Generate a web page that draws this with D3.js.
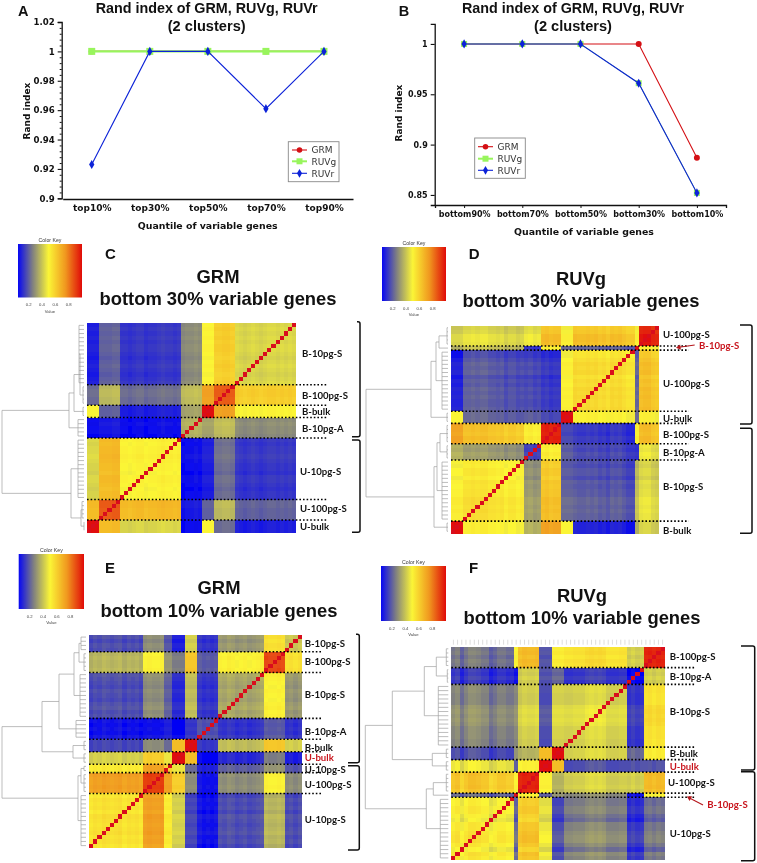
<!DOCTYPE html>
<html><head><meta charset="utf-8">
<script src="https://cdnjs.cloudflare.com/ajax/libs/d3/7.8.5/d3.min.js"></script>
<style>html,body{margin:0;padding:0;background:#fff}svg{display:block;filter:blur(0.3px)}</style>
</head><body><svg id="fig" width="757" height="863"></svg>
<script>
// ---------- line chart data ----------
const topQuantiles=["top10%","top30%","top50%","top70%","top90%"];
const bottomQuantiles=["bottom90%","bottom70%","bottom50%","bottom30%","bottom10%"];
const seriesNames=["GRM","RUVg","RUVr"];
const seriesColors=["#d40f14","#98f55c","#0c22d8"];
const aGRM=[1,1,1,1,1];
const aRUVg=[1,1,1,1,1];
const aRUVr=[0.923,1,1,0.961,1];
const bGRM=[1,1,1,1,0.887];
const bRUVg=[1,1,1,0.961,0.852];
const bRUVr=[1,1,1,0.961,0.852];
const aYTicks=[0.9,0.92,0.94,0.96,0.98,1,1.02];
const aYMinor=[.904,.908,.912,.916,.924,.928,.932,.936,.944,.948,.952,.956,.964,.968,.972,.976,.984,.988,.992,.996,1.004,1.008,1.012,1.016];
const bYTicks=[0.85,0.9,0.95,1];
// ---------- heatmap data: group sizes, between-group similarity, per-sample drift ----------
const cSizes=[15,5,3,5,15,5,3];
const cBlocks=[
[.43,.6,.5,.28,.12,.2,.08],
[.6,.85,.72,.38,.22,.37,.22],
[.5,.72,1,.33,.08,.2,.5],
[.28,.38,.33,.36,.05,.07,.05],
[.12,.22,.08,.05,.5,.65,.43],
[.2,.37,.2,.07,.65,.85,.65],
[.08,.22,.5,.05,.43,.65,1]];
const cDrift=[0,.01,0,.01,0,.01,.01,0,-.01,0,.01,0,-.01,0,.01, 0,.01,.01,0,0, 0,0,0, 0,.01,0,0,-.01, .01,0,.01,.01,.02,.01,0,0,-.01,.01,.01,0,-.01,0,0, .01,.01,0,0,0, 0,0,0];
const dSizes=[5,1,15,3,5,4,15,3];
const dBlocks=[
[.95,.5,.62,.5,.62,.46,.43,.42],
[.5,1,.2,.22,.5,.12,.38,.35],
[.62,.2,.55,.5,.1,.15,.17,.08],
[.5,.22,.5,1,.14,.2,.2,.5],
[.62,.5,.1,.14,.92,.5,.6,.7],
[.46,.12,.15,.2,.5,.15,.3,.36],
[.43,.38,.17,.2,.6,.3,.52,.5],
[.42,.35,.08,.5,.7,.36,.5,1]];
const dDrift=[-.02,-.01,.02,.02,.01, 0, -.02,-.02,0,.02,.01,.02,-.01,.01,0,.02,.01,.02,.01,.01,.02, 0,0,0, .02,.02,.01,.03,.02, 0,-.01,.01,0, -.01,-.02,0,0,-.02,.01,0,.01,.01,.03,.03,.02,.03,.02,.02, 0,0,0];
const eSizes=[4,5,11,5,3,3,2,5,13];
const eBlocks=[
[.4,.55,.3,.13,.42,.08,.18,.28,.16],
[.55,.88,.5,.2,.62,.25,.3,.5,.36],
[.3,.5,.33,.13,.38,.1,.2,.28,.16],
[.13,.2,.13,.2,.14,.05,.1,.07,.07],
[.42,.62,.38,.14,1,.65,.22,.28,.15],
[.08,.25,.1,.05,.65,1,.47,.6,.42],
[.18,.3,.2,.1,.22,.47,.6,.72,.52],
[.28,.5,.28,.07,.28,.6,.72,.9,.72],
[.16,.36,.16,.07,.15,.42,.52,.72,.54]];
const eDrift=[.01,-.01,.01,0, 0,.01,0,0,.01, .02,.01,0,-.01,.01,0,-.01,.01,.02,0,.01, -.01,-.02,-.01,-.02,0, 0,0,0, 0,0,0, 0,0, .01,0,0,.01,0, -.01,.01,0,.01,-.01,.02,.01,0,.01,.02,0,.01,-.01];
const fSizes=[5,4,15,3,3,5,1,15];
const fBlocks=[
[.95,.42,.55,.52,.18,.65,.5,.24],
[.42,.05,.13,.22,.18,.42,.07,.13],
[.55,.13,.43,.43,.17,.42,.28,.27],
[.52,.22,.43,1,.65,.36,.3,.17],
[.18,.18,.17,.65,1,.51,.2,.47],
[.65,.42,.42,.36,.51,.95,.5,.62],
[.5,.07,.28,.3,.2,.5,1,.22],
[.24,.13,.27,.17,.47,.62,.22,.52]];
const fDrift=[0,.01,-.01,.01,0, 0,-.01,.01,-.01, 0,0,-.01,-.01,-.01,.02,.03,.02,.03,.02,0,0,0,-.01,-.01, 0,0,0, 0,0,0, .01,0,0,.01,-.01, 0, -.02,-.02,0,0,-.03,-.05,0,0,.02,.03,.03,0,-.04,.02,0];
// dendrogram distances: [height, child, child]; a bare {g,h} is a sample group
const L=(g,h)=>({g,h});
const N=(h,...kids)=>({h,kids});
const cTree=N(85,N(18,N(13,N(7,L(0,8),L(1,4)),L(2,4)),L(3,9)),N(16,L(4,9),N(6,L(5,5),L(6,3))));
const dTree=N(85,N(20,N(15,N(12,L(0,4),L(1,3)),L(2,9)),L(3,4)),N(17,N(14,N(11,L(4,4),L(5,4)),L(6,9)),L(7,4)));
const eTree=N(87,N(47,N(30,N(15,N(10,L(0,8),L(1,5)),L(2,9)),L(3,13)),N(16,L(4,5),L(5,5))),N(11,N(8,L(6,5),L(7,5)),L(8,8)));
const fTree=N(86,N(59,N(27,N(15,L(0,5),L(1,4)),L(2,13)),N(19,L(3,5),L(4,5))),N(25,N(18,L(5,5),L(6,3)),L(7,11)));
const keyTicks=[0.2,0.4,0.6,0.8];
const heatStops=[.04,.26,.5,.75,1];
const heatColors=["#0606f4","#808080","#fbf536","#f0981f","#e00a08"];
const keyStops=[0,.02,.04,.06,.08,.1,.12,.14,.16,.18,.2,.22,.24,.26,.28,.3,.32,.34,.36,.38,.4,.42,.44,.46,.48,.5,.52,.54,.56,.58,.6,.62,.64,.66,.68,.7,.72,.74,.76,.78,.8,.82,.84,.86,.88,.9,.92,.94,.96,.98,1];

const heat=d3.scaleLinear().domain(heatStops).range(heatColors).clamp(true);
const svg=d3.select("#fig");
const ARIAL="'Liberation Sans',Arial,sans-serif", VERD="'DejaVu Sans',Verdana,sans-serif", CAL="Lato,Carlito,sans-serif";
const defs=svg.append("defs");
defs.append("filter").attr("id","soft").attr("x","-2%").attr("y","-2%").attr("width","104%").attr("height","104%")
 .append("feGaussianBlur").attr("stdDeviation",0.4);
const grad=defs.append("linearGradient").attr("id","keyGrad");
keyStops.forEach(t=>grad.append("stop").attr("offset",t).attr("stop-color",heat(.04+t*.96)));

function txt(g,s,x,y,o={}){
  return g.append("text").attr("x",x).attr("y",y).text(s)
    .attr("font-family",o.f||ARIAL).attr("font-size",o.s||12).attr("font-weight",o.w||"bold")
    .attr("text-anchor",o.a||"start").attr("fill",o.c||"#111");
}
// ---------- line charts ----------
function lineChart(o){
  const g=svg.append("g");
  const x=d3.scalePoint().domain(o.cats).range(o.xr).padding(.5);
  const y=d3.scaleLinear().domain(o.yd).range(o.yr);
  const ax=g.append("g").attr("transform",`translate(${o.axisX},0)`)
    .call(d3.axisLeft(y).tickValues(o.ticks).tickSize(o.tick).tickPadding(3).tickFormat(d3.format("~g")));
  ax.selectAll("text").attr("font-family",VERD).attr("font-weight","bold").attr("font-size",o.tf).attr("fill","#111");
  ax.select(".domain").attr("stroke","#111").attr("stroke-width",1.3);
  ax.selectAll(".tick line").attr("stroke","#111").attr("stroke-width",1.1);
  if(o.minor){
    g.append("g").attr("transform",`translate(${o.axisX},0)`)
     .call(d3.axisLeft(y).tickValues(o.minor).tickSize(2).tickFormat(""))
     .call(s=>s.select(".domain").remove()).selectAll("line").attr("stroke","#111");
  }
  const bx=g.append("g").attr("transform",`translate(0,${o.axisY})`)
    .call(d3.axisBottom(x).tickSize(o.xtick).tickPadding(o.xpad));
  bx.selectAll("text").attr("font-family",VERD).attr("font-weight","bold").attr("font-size",o.xf).attr("fill","#111");
  bx.select(".domain").attr("stroke","#111").attr("stroke-width",1.3);
  bx.selectAll(".tick line").attr("stroke","#111");
  const line=d3.line().x((d,i)=>x(o.cats[i])).y(d=>y(d));
  const types=[d3.symbolCircle,d3.symbolSquare,d3.symbolDiamond];
  o.series.forEach((vals,k)=>{
    g.append("path").datum(vals).attr("d",line).attr("fill","none").attr("stroke",seriesColors[k]).attr("stroke-width",k==1?o.greenW:1.1);
    const m=d3.symbol().type(types[k]).size([28,o.green,24][k]);
    g.selectAll(null).data(vals).join("path").attr("d",m)
      .attr("transform",(d,i)=>`translate(${x(o.cats[i])},${y(d)})`).attr("fill",seriesColors[k]);
  });
  // legend
  const b=o.legend;
  g.append("rect").attr("x",b.x).attr("y",b.y).attr("width",b.w).attr("height",b.h).attr("fill","#fff").attr("stroke","#888").attr("stroke-width",.9);
  seriesNames.forEach((n,k)=>{
    const yy=b.rows[k];
    g.append("line").attr("x1",b.lx).attr("x2",b.lx+15).attr("y1",yy).attr("y2",yy).attr("stroke",seriesColors[k]).attr("stroke-width",k==1?2:1.1);
    const m=d3.symbol().type(types[k]).size([24,36,22][k]);
    g.append("path").attr("d",m).attr("transform",`translate(${b.lx+7.5},${yy})`).attr("fill",seriesColors[k]);
    txt(g,n,b.lx+19.5,yy+3.2,{f:VERD,s:9,w:"normal",c:"#333"});
  });
  txt(g,o.title[0],o.tc,13,{s:14,a:"middle"}).attr("textLength",222).attr("lengthAdjust","spacingAndGlyphs");
  txt(g,o.title[1],o.tc,30.7,{s:14.6,a:"middle"});
  txt(g,"Quantile of variable genes",o.xc,o.xb,{f:VERD,s:9.4,a:"middle"});
  g.append("text").text("Rand index").attr("transform",`translate(${o.yx},${o.yc}) rotate(-90)`)
    .attr("font-family",VERD).attr("font-weight","bold").attr("font-size",9).attr("text-anchor","middle").attr("fill","#111");
  txt(g,o.letter,o.lx,16,{s:14.5});
}
lineChart({cats:topQuantiles,xr:[62.7,353],yd:[.9,1.02],yr:[198.3,22],ticks:aYTicks,minor:aYMinor,green:49,greenW:2.2,
  axisX:61.7,axisY:199,tick:4,xtick:0,xpad:6,tf:8.6,xf:9,series:[aGRM,aRUVg,aRUVr],
  legend:{x:288.3,y:141.7,w:50.7,h:40,lx:292,rows:[150,161.3,173.3]},
  title:["Rand index of GRM, RUVg, RUVr","(2 clusters)"],tc:206.7,xc:207.7,xb:228.7,yx:30,yc:111,letter:"A",lx:18});
lineChart({cats:bottomQuantiles,xr:[435,726],yd:[.84,1.02],yr:[205,23.8],ticks:bYTicks,green:36,greenW:1,
  axisX:434.7,axisY:205,tick:4,xtick:3,xpad:3,tf:8,xf:8,series:[bGRM,bRUVg,bRUVr],
  legend:{x:474.7,y:138,w:50.6,h:40.3,lx:478,rows:[146.7,158.7,170.3]},
  title:["Rand index of GRM, RUVg, RUVr","(2 clusters)"],tc:573,xc:584,xb:234.7,yx:402,yc:113,letter:"B",lx:398.7});

// ---------- heatmap panels ----------
function panel(o){
  const g=svg.append("g");
  const n=d3.sum(o.sizes);
  const group=[]; o.sizes.forEach((s,k)=>d3.range(s).forEach(()=>group.push(k)));
  const ids=d3.range(n);
  const xB=d3.scaleBand().domain(ids).range([o.x0,o.x1]);
  const yB=d3.scaleBand().domain(ids).range([o.y0,o.y1]);
  const cells=[];
  ids.forEach(r=>ids.forEach(c=>{
    const s=n-1-c;
    cells.push({r,c,v:r===s?1:o.blocks[group[r]][group[s]]+o.drift[r]+o.drift[s],diag:r===s});
  }));
  g.append("g").attr("filter","url(#soft)").selectAll("rect").data(cells).join("rect")
    .attr("x",d=>xB(d.c)).attr("y",d=>yB(d.r)).attr("width",xB.bandwidth()+.4).attr("height",yB.bandwidth()+.4)
    .attr("fill",d=>d.diag?"#d9101a":heat(d.v)).attr("shape-rendering","crispEdges");
  // dotted group boundaries
  let acc=0; const cuts=[];
  o.sizes.slice(0,-1).forEach(s=>{acc+=s;cuts.push(acc);});
  g.selectAll(null).data(cuts).join("line")
    .attr("x1",o.x0).attr("x2",o.dotEnd).attr("y1",d=>yB(d)).attr("y2",d=>yB(d))
    .attr("stroke","#000").attr("stroke-width",1.6).attr("stroke-dasharray","1.6 2");
  // row dendrogram
  const dx=d3.scaleLinear().domain([0,90]).range([o.x0,o.x0-90]);
  const den=d3.path();
  function draw(node){
    if(node.g!==undefined){
      const m=o.sizes[node.g];
      const first=d3.sum(o.sizes.slice(0,node.g));
      const hx=dx(node.h);
      d3.range(first,first+m).forEach(i=>{const yy=yB(i)+yB.bandwidth()/2;den.moveTo(hx,yy);den.lineTo(o.x0-3,yy);});
      den.moveTo(hx,yB(first)+yB.bandwidth()/2);den.lineTo(hx,yB(first+m-1)+yB.bandwidth()/2);
      return yB(first)+yB.bandwidth()*m/2;
    }
    const ys=node.kids.map(k=>{const yy=draw(k);den.moveTo(dx(k.h),yy);den.lineTo(dx(node.h),yy);return yy;});
    den.moveTo(dx(node.h),ys[0]);den.lineTo(dx(node.h),ys[ys.length-1]);
    return d3.mean(ys);
  }
  draw(o.tree);
  g.append("path").attr("d",den.toString()).attr("fill","none").attr("stroke","#a0a0a0").attr("stroke-width",.7);
  // column ticks
  if(o.colTicks){
    g.append("g").selectAll("line").data(ids).join("line")
     .attr("x1",d=>xB(d)+xB.bandwidth()/2).attr("x2",d=>xB(d)+xB.bandwidth()/2)
     .attr("y1",o.y0-7).attr("y2",o.y0-2).attr("stroke","#bbb").attr("stroke-width",.5);
  }
  // brackets
  o.brackets.forEach(b=>{
    const p=d3.path();
    p.moveTo(b.hl1,b.t);p.lineTo(b.v-2,b.t);p.quadraticCurveTo(b.v,b.t,b.v,b.t+2);
    p.lineTo(b.v,b.b-2);p.quadraticCurveTo(b.v,b.b,b.v-2,b.b);p.lineTo(b.hl2,b.b);
    g.append("path").attr("d",p.toString()).attr("fill","none").attr("stroke","#111").attr("stroke-width",1.5);
  });
  // labels
  o.labels.forEach(l=>txt(g,l[0],l[1],l[2]+3.3,{f:CAL,s:9.6,c:l[3]||"#111"}));
  (o.arrows||[]).forEach(a=>{
    g.append("line").attr("x1",a[0]).attr("y1",a[1]).attr("x2",a[2]).attr("y2",a[3]).attr("stroke","#b5161c").attr("stroke-width",1.1);
    const ang=Math.atan2(a[3]-a[1],a[2]-a[0])*180/Math.PI;
    g.append("path").attr("d",d3.symbol().type(d3.symbolTriangle).size(12)).attr("fill","#b5161c")
     .attr("transform",`translate(${a[2]},${a[3]}) rotate(${ang+90})`);
  });
  // colour key
  const k=o.key, kw=k.x1-k.x0, kh=k.y1-k.y0;
  g.append("rect").attr("x",k.x0).attr("y",k.y0).attr("width",kw).attr("height",kh).attr("fill","url(#keyGrad)");
  const kx=d3.scaleLinear().domain([.04,1]).range([k.x0,k.x1]);
  txt(g,"Color Key",(k.x0+k.x1)/2,k.y0-1.6,{s:5.2,w:"normal",a:"middle",c:"#333"});
  keyTicks.forEach(t=>txt(g,d3.format(".1f")(t),kx(t),k.y1+8.5,{s:4.2,w:"normal",a:"middle",c:"#444"}));
  txt(g,"Value",(k.x0+k.x1)/2,k.y1+15,{s:4.2,w:"normal",a:"middle",c:"#444"});
  // headings
  txt(g,o.letter,o.lx,o.ly,{s:15});
  txt(g,o.head,o.tc,o.t1,{s:18.4,a:"middle"});
  txt(g,o.sub,o.tc,o.t2,{s:18.4,a:"middle"});
}
const RED="#c8141c";
panel({sizes:cSizes,blocks:cBlocks,drift:cDrift,tree:cTree,x0:87,x1:296,y0:323.3,y1:532.3,dotEnd:327,
  key:{x0:18,x1:82,y0:244,y1:297.5},letter:"C",lx:105,ly:259,head:"GRM",sub:"bottom 30% variable genes",tc:218,t1:282.7,t2:305,
  brackets:[{hl1:357,hl2:352,v:360,t:321.7,b:436.7},{hl1:352,hl2:352,v:360,t:440,b:532.3}],
  labels:[["B-10pg-S",302,353.3],["B-100pg-S",302,395.3],["B-bulk",302,411.7],["B-10pg-A",302,429],["U-10pg-S",300,471.7],["U-100pg-S",300,509],["U-bulk",300,527]]});
panel({sizes:dSizes,blocks:dBlocks,drift:dDrift,tree:dTree,x0:451,x1:659,y0:325.7,y1:533.3,dotEnd:688.7,
  key:{x0:382,x1:446,y0:247,y1:301},letter:"D",lx:468.7,ly:259,head:"RUVg",sub:"bottom 30% variable genes",tc:581,t1:285,t2:307.3,
  brackets:[{hl1:740,hl2:740,v:752,t:325,b:424},{hl1:740,hl2:740,v:752,t:428.3,b:533.3}],
  labels:[["U-100pg-S",663,334.3],["B-10pg-S",699,345.7,RED],["U-100pg-S",663,383.7],["U-bulk",663,419],["B-100pg-S",663,434.3],["B-10pg-A",663,452.3],["B-10pg-S",663,487],["B-bulk",663,530.3]],
  arrows:[[694.7,345,679,347.3]]});
panel({sizes:eSizes,blocks:eBlocks,drift:eDrift,tree:eTree,x0:89,x1:301.7,y0:635,y1:847.7,dotEnd:322.7,
  key:{x0:18.7,x1:84,y0:554,y1:609},letter:"E",lx:105,ly:573,head:"GRM",sub:"bottom 10% variable genes",tc:219,t1:594,t2:616.7,
  brackets:[{hl1:356,hl2:348,v:359.3,t:634.3,b:762.7},{hl1:348,hl2:348,v:359.3,t:765.7,b:850}],
  labels:[["B-10pg-S",304.7,643.7],["B-100pg-S",304.7,662],["B-10pg-S",304.7,694.7],["B-10pg-A",304.7,731.3],["B-bulk",304.7,747.3],["U-bulk",304.7,758,RED],["U-10pg-S",304.7,769.7],["U-100pg-S",304.7,784.7],["U-10pg-S",304.7,819.3]]});
panel({sizes:fSizes,blocks:fBlocks,drift:fDrift,tree:fTree,x0:451.3,x1:664.7,y0:646.7,y1:860,dotEnd:694.7,colTicks:true,
  key:{x0:381,x1:446,y0:566,y1:621},letter:"F",lx:469,ly:573,head:"RUVg",sub:"bottom 10% variable genes",tc:582,t1:601.7,t2:624,
  brackets:[{hl1:741,hl2:741,v:754.7,t:646,b:770},{hl1:741,hl2:741,v:754.7,t:771.7,b:860.7}],
  labels:[["B-100pg-S",669.7,656.3],["B-10pg-A",669.7,676.7],["B-10pg-S",669.7,711.7],["B-bulk",669.7,753.3],["U-bulk",669.7,766.7,RED],["U-100pg-S",668,783],["B-10pg-S",707.3,805,RED],["U-10pg-S",669.7,833.7]],
  arrows:[[703,805,689.5,798]]});
</script></body></html>
